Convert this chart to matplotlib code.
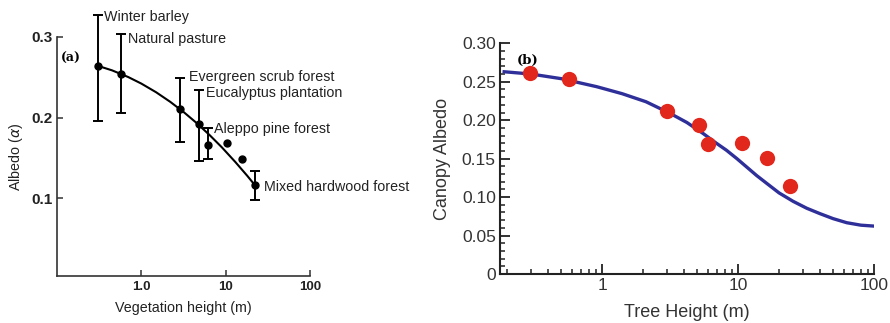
import matplotlib
matplotlib.use("Agg")
import matplotlib.pyplot as plt
from matplotlib.ticker import FixedLocator, LogLocator, MultipleLocator, NullFormatter, NullLocator

plt.rcParams['font.family'] = ['Liberation Sans', 'DejaVu Sans']

# ---- panel (a): vegetation height vs albedo with error bars ----
veg_names = ["Winter barley", "Natural pasture", "Evergreen scrub forest",
             "Eucalyptus plantation", "Aleppo pine forest", "Mixed hardwood forest"]
veg_height = [0.31, 0.57, 2.86, 4.77, 6.1, 22.3]
veg_albedo = [0.264, 0.254, 0.2106, 0.1915, 0.1655, 0.1158]
veg_err_hi = [0.327, 0.304, 0.249, 0.2345, 0.1866, 0.134]
veg_err_lo = [0.196, 0.206, 0.170, 0.1456, 0.149, 0.0984]

extra_height = [10.5, 15.6]
extra_albedo = [0.1687, 0.1488]

fit_a_height = [0.31, 0.45, 0.7, 1.0, 1.5, 2.2, 3.2, 4.5, 6.5, 9.0, 13.0, 18.0, 22.3]
fit_a_albedo = [0.264, 0.2586, 0.2503, 0.2422, 0.2314, 0.2196, 0.2066, 0.1935,
                0.1780, 0.1632, 0.1450, 0.1279, 0.1160]

a_xticks = [1, 10, 100]
a_xticklabels = ["1.0", "10", "100"]
a_yticks = [0.1, 0.2, 0.3]
a_yticklabels = ["0.1", "0.2", "0.3"]

# label anchor points (data coords) for the site names
label_x = [0.363, 0.70, 3.63, 5.78, 7.2, 28.3]
label_y = [0.3248, 0.2975, 0.2503, 0.2304, 0.1857, 0.1137]

# ---- panel (b): tree height vs canopy albedo ----
tree_height = [0.294, 0.569, 2.975, 5.17, 6.02, 10.7, 16.4, 24.0]
tree_albedo = [0.2618, 0.2532, 0.212, 0.1938, 0.169, 0.170, 0.1508, 0.1144]

model_height = [0.19, 0.3, 0.5, 0.91, 1.4, 2.1, 3.15, 4.2, 5.5, 6.8, 8.2, 9.8, 11.5,
                13.7, 16.2, 20, 25.4, 32, 40, 50, 63, 80, 98]
model_albedo = [0.263, 0.2600, 0.2540, 0.2436, 0.2345, 0.224, 0.209, 0.197, 0.183,
                0.171, 0.161, 0.150, 0.1395, 0.128, 0.118, 0.1055, 0.0945, 0.0855,
                0.0785, 0.0720, 0.0667, 0.0635, 0.0624]

b_xticks = [1, 10, 100]
b_xticklabels = ["1", "10", "100"]
b_yticks = [0, 0.05, 0.10, 0.15, 0.20, 0.25, 0.30]
b_yticklabels = ["0", "0.05", "0.10", "0.15", "0.20", "0.25", "0.30"]

W, H = 890, 323
fig = plt.figure(figsize=(W / 100, H / 100), dpi=100)

# panel (a)
axa = fig.add_axes([57 / W, (H - 276) / H, (310 - 57) / W, (276 - 37) / H])
axa.set_xscale('log')
axa.set_xlim(0.1, 100)
axa.set_ylim(0.0035, 0.3)
for s in ('top', 'right'):
    axa.spines[s].set_visible(False)
for s in ('left', 'bottom'):
    axa.spines[s].set_linewidth(1.2)
    axa.spines[s].set_color('#333333')
axa.xaxis.set_major_locator(FixedLocator(a_xticks))
axa.xaxis.set_minor_locator(NullLocator())
axa.set_xticklabels(a_xticklabels)
axa.yaxis.set_major_locator(FixedLocator(a_yticks))
axa.set_yticklabels(a_yticklabels)
axa.tick_params(direction='in', length=4, width=1.1, color='#333333',
                labelcolor='#222222', pad=3.5)
axa.tick_params(axis='x', labelsize=9.5)
axa.tick_params(axis='y', labelsize=11)
for lab in axa.get_xticklabels() + axa.get_yticklabels():
    lab.set_fontweight('bold')

axa.plot(fit_a_height, fit_a_albedo, color='black', lw=1.5, zorder=2)
lo = [a - l for a, l in zip(veg_albedo, veg_err_lo)]
hi = [h - a for a, h in zip(veg_albedo, veg_err_hi)]
axa.errorbar(veg_height, veg_albedo, yerr=[lo, hi], fmt='o', color='black',
             ms=5, capsize=3.5, elinewidth=1.4, capthick=1.4, clip_on=False, zorder=3)
axa.plot(extra_height, extra_albedo, 'o', color='black', ms=5, zorder=3)
for name, x, y in zip(veg_names, label_x, label_y):
    axa.text(x, y, name, fontsize=10.3, color='#222222', va='center', ha='left',
             clip_on=False)
axa.text(0.112, 0.274, "(a)", fontsize=9, fontweight='bold', family='DejaVu Serif',
         va='center', ha='left')
axa.set_xlabel("Vegetation height (m)", fontsize=10.3, color='#222222', labelpad=6)
axa.set_ylabel(r"Albedo ($\alpha$)", fontsize=10.3, color='#222222', labelpad=4)

# panel (b)
axb = fig.add_axes([500 / W, (H - 274) / H, (874 - 500) / W, (274 - 43.3) / H])
axb.set_xscale('log')
axb.set_xlim(10 ** -0.752, 100)
axb.set_ylim(0, 0.30)
for s in ('top', 'right'):
    axb.spines[s].set_visible(False)
for s in ('left', 'bottom'):
    axb.spines[s].set_linewidth(1.5)
    axb.spines[s].set_color('#222222')
axb.xaxis.set_major_locator(FixedLocator(b_xticks))
axb.xaxis.set_minor_locator(LogLocator(base=10, subs=range(2, 10)))
axb.xaxis.set_minor_formatter(NullFormatter())
axb.set_xticklabels(b_xticklabels)
axb.yaxis.set_major_locator(FixedLocator(b_yticks))
axb.yaxis.set_minor_locator(MultipleLocator(0.01))
axb.set_yticklabels(b_yticklabels)
axb.tick_params(which='major', direction='in', length=7, width=1.3, color='#222222',
                labelsize=12.5, labelcolor='#333333', pad=3)
axb.tick_params(which='minor', direction='in', length=3.5, width=1.1, color='#222222')

axb.plot(model_height, model_albedo, color='#2f2f9a', lw=2.4, zorder=2)
axb.plot(tree_height, tree_albedo, 'o', color='#e2281c', ms=11, mec='none', zorder=3)
axb.text(0.237, 0.278, "(b)", fontsize=9.5, fontweight='bold', family='DejaVu Serif',
         va='center', ha='left')
axb.set_xlabel("Tree Height (m)", fontsize=13, color='#333333', labelpad=8)
axb.set_ylabel("Canopy Albedo", fontsize=13, color='#333333', labelpad=8)

fig.savefig("out.png", dpi=100)
